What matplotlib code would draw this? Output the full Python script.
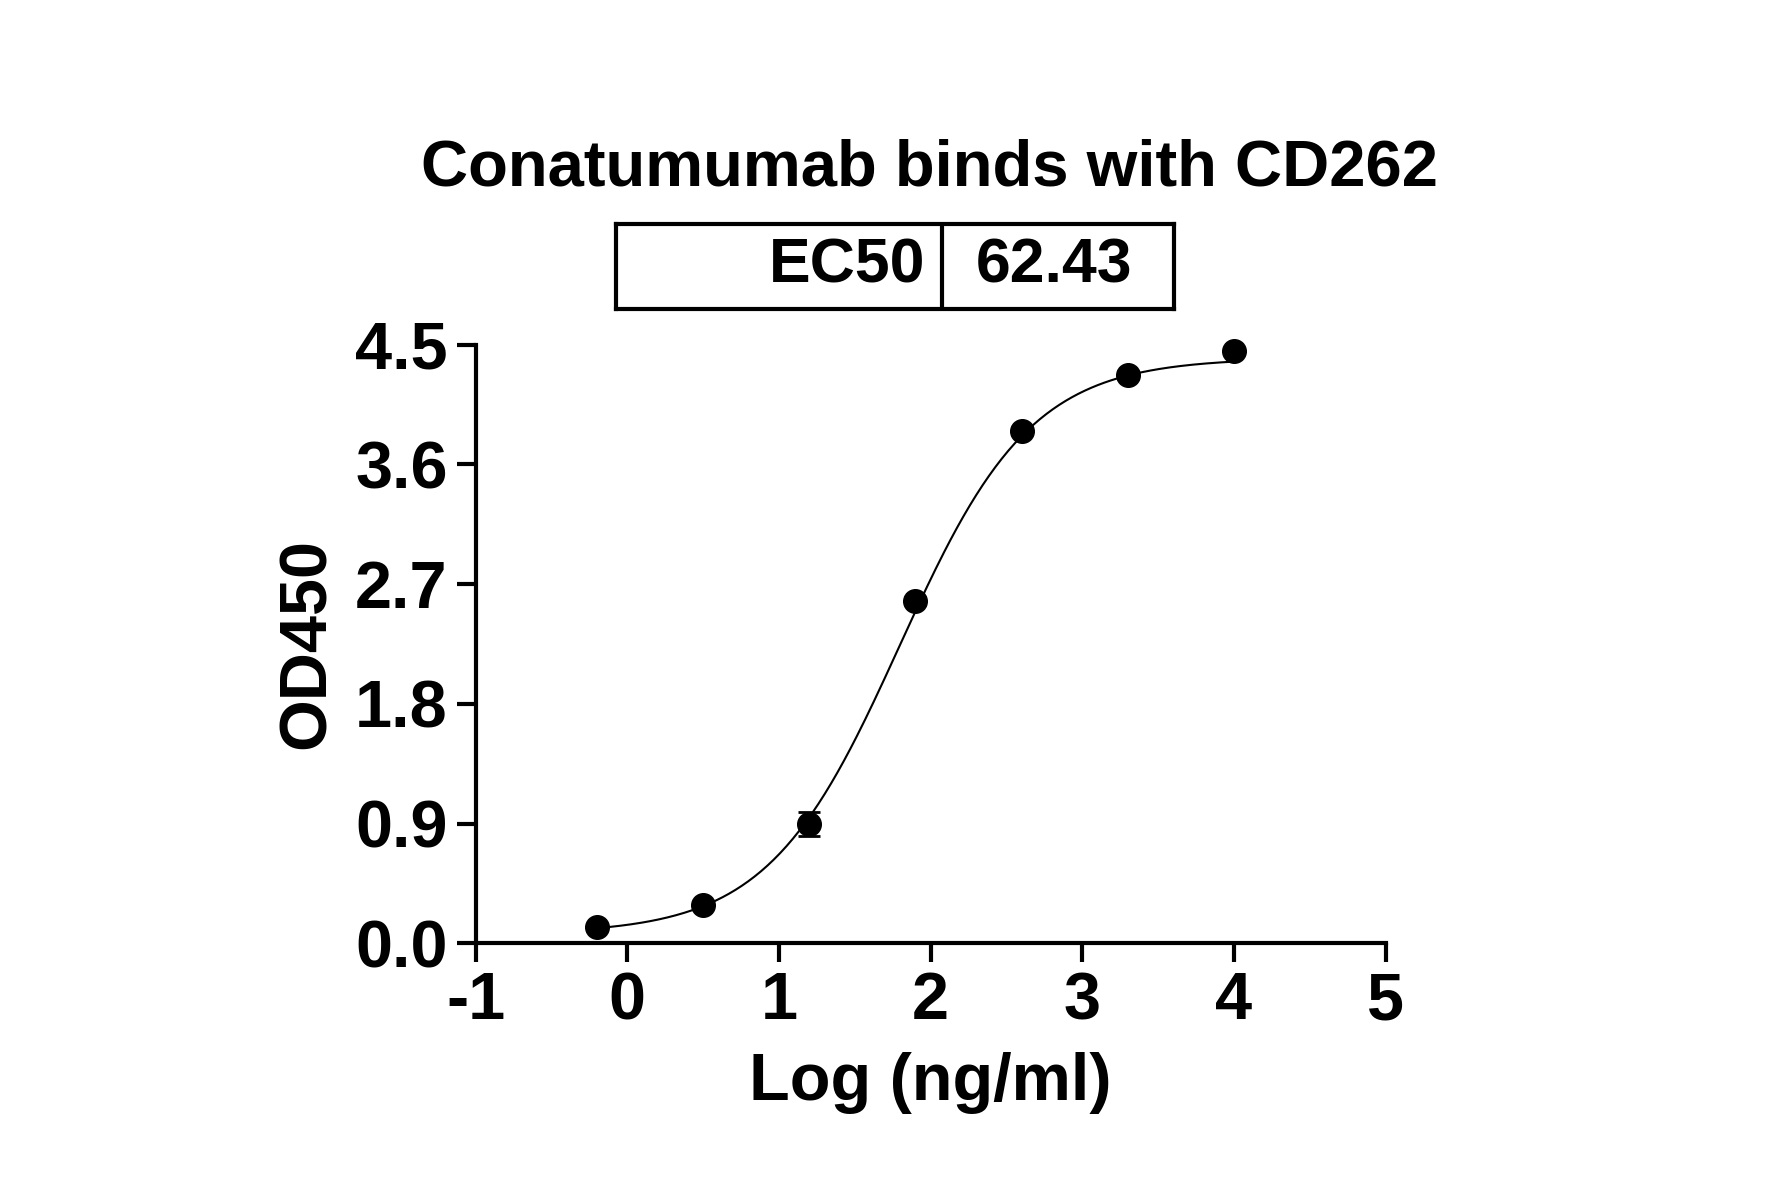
import numpy as np
import matplotlib.pyplot as plt

plt.rcParams['font.family'] = ['Liberation Sans', 'DejaVu Sans']
plt.rcParams['font.weight'] = 'bold'
plt.rcParams['axes.unicode_minus'] = False

log_conc = [-0.2, 0.5, 1.2, 1.9, 2.6, 3.3, 4.0]
od450 = [0.12, 0.29, 0.90, 2.57, 3.85, 4.27, 4.45]
od_err = [0.02, 0.02, 0.09, 0.03, 0.03, 0.03, 0.02]
# 4PL fit parameters
bottom, top, log_ec50, hill = 0.07, 4.40, np.log10(62.43), 1.0
ec50_label = "62.43"

fig = plt.figure(figsize=(17.81, 11.97), dpi=100)
ax = fig.add_axes([0.267, 0.212, 0.511, 0.5])

xs = np.linspace(-0.2, 4.0, 300)
ys = bottom + (top - bottom) / (1 + 10 ** ((log_ec50 - xs) * hill))
ax.plot(xs, ys, color='black', lw=1.5)
ax.errorbar(log_conc, od450, yerr=od_err, fmt='o', color='black', ms=17,
            capsize=8, elinewidth=2, capthick=2, clip_on=False, zorder=5)

ax.set_xlim(-1, 5)
ax.set_ylim(0, 4.5)
ax.set_xticks(range(-1, 6))
ax.set_yticks([0, 0.9, 1.8, 2.7, 3.6, 4.5])
ax.set_yticklabels(['0.0', '0.9', '1.8', '2.7', '3.6', '4.5'])
for s in ['top', 'right']:
    ax.spines[s].set_visible(False)
for s in ['left', 'bottom']:
    ax.spines[s].set_linewidth(3)
ax.tick_params(width=3, length=14, labelsize=48, pad=6)
for lab in ax.get_xticklabels() + ax.get_yticklabels():
    lab.set_fontweight('bold')
ax.set_xlabel('Log (ng/ml)', fontsize=48, fontweight='bold', labelpad=14)
ax.set_ylabel('OD450', fontsize=48, fontweight='bold', labelpad=12)

fig.text(0.522, 0.859, 'Conatumumab binds with CD262', ha='center', va='center',
         fontsize=47, fontweight='bold')
# EC50 table
tab = fig.add_axes([0.346, 0.742, 0.313, 0.071])
tab.set_xlim(0, 1)
tab.set_ylim(0, 1)
tab.set_xticks([])
tab.set_yticks([])
for s in tab.spines.values():
    s.set_linewidth(3)
tab.axvline(0.584, color='black', lw=3)
tab.text(0.555, 0.5, 'EC50', ha='right', va='center', fontsize=45, fontweight='bold')
tab.text(0.785, 0.5, ec50_label, ha='center', va='center', fontsize=45, fontweight='bold')

fig.savefig('out.png', dpi=100)
